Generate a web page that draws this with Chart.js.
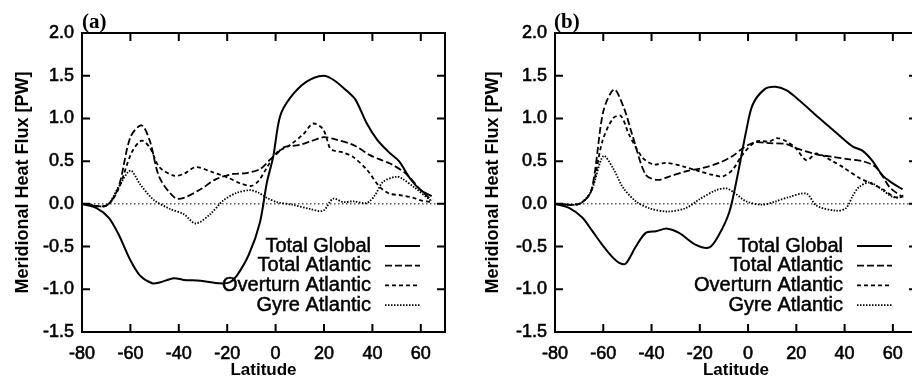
<!DOCTYPE html>
<html>
<head>
<meta charset="utf-8">
<script src="https://cdn.jsdelivr.net/npm/chart.js@4.4.1/dist/chart.umd.min.js"></script>
<style>
  html, body { margin: 0; padding: 0; background: #fff; width: 912px; height: 381px; overflow: hidden; position: relative; }
  canvas { position: absolute; top: 0; }
  #chartA { left: 0; }
  #chartB { left: 456px; }
</style>
</head>
<body>
<canvas id="chartA" width="456" height="381"></canvas>
<canvas id="chartB" width="472" height="381"></canvas>
<script>
// --- data: [latitude, heat flux PW] ---
const xTicks = [-80, -60, -40, -20, 0, 20, 40, 60];
const yTicks = [-1.5, -1.0, -0.5, 0, 0.5, 1.0, 1.5, 2.0];
const seriesNames = ['Total Global', 'Total Atlantic', 'Overturn Atlantic', 'Gyre Atlantic'];

// panel (a)
const globalA = [[-80,0],[-74,-0.05],[-69,-0.16],[-65,-0.35],[-60,-0.66],[-56,-0.84],[-51,-0.93],[-48,-0.92],[-42,-0.87],[-38,-0.89],[-31,-0.9],[-23,-0.93],[-19,-0.92],[-16,-0.84],[-11,-0.59],[-6.5,-0.22],[-3.6,0.25],[-1,0.55],[1.8,1.02],[6,1.24],[12.8,1.43],[19.7,1.5],[24,1.45],[29.5,1.32],[33,1.22],[37.7,0.94],[42,0.75],[47,0.6],[51,0.5],[55.5,0.3],[60,0.16],[64.5,0.09]];
const atlanticA = [[-80,0],[-70,-0.02],[-65,0.19],[-60,0.78],[-55.4,0.92],[-52,0.74],[-48,0.31],[-41.6,0.07],[-38,0.07],[-31,0.17],[-24.6,0.29],[-17.6,0.35],[-12,0.36],[-6.3,0.41],[-2.2,0.52],[1,0.6],[3.1,0.66],[10,0.69],[14.3,0.73],[19.8,0.78],[24,0.76],[32,0.69],[39,0.57],[43,0.52],[47.5,0.47],[54,0.35],[59.7,0.17],[64.5,0.04]];
const overturnA = [[-80,0],[-70,-0.02],[-65,0.17],[-59.5,0.6],[-55.4,0.74],[-52,0.66],[-48,0.43],[-42,0.33],[-38,0.35],[-33,0.43],[-26,0.37],[-20,0.31],[-14.6,0.24],[-10,0.21],[-7,0.27],[-3.7,0.42],[0.5,0.6],[6,0.69],[11.6,0.82],[15.5,0.94],[19.7,0.87],[22.5,0.65],[24.5,0.62],[28,0.6],[32,0.55],[37.7,0.4],[43,0.2],[47,0.12],[52,0.1],[57,0.07],[60,0.04],[64.5,0.02]];
const gyreA = [[-80,0],[-70,-0.02],[-65,0.19],[-60,0.39],[-56,0.23],[-50.5,0.05],[-43.6,-0.06],[-38,-0.12],[-33,-0.23],[-27,-0.12],[-21.6,0.04],[-16,0.13],[-10.5,0.16],[-7,0.13],[-3.6,0.07],[0.5,0.02],[7,-0.01],[14.3,-0.06],[19.7,-0.08],[23.7,0.06],[28,0.02],[32,0.03],[37.7,0.01],[41,0.1],[44.5,0.26],[50,0.32],[52,0.3],[57,0.2],[64.5,0.03]];

// panel (b)
const globalB = [[-80,0],[-74,-0.05],[-68.7,-0.16],[-64.5,-0.32],[-60.4,-0.48],[-56,-0.63],[-53.4,-0.69],[-50.7,-0.7],[-46.5,-0.5],[-42.4,-0.34],[-38.2,-0.32],[-33.4,-0.29],[-28.6,-0.34],[-21.6,-0.48],[-16,-0.51],[-12,-0.36],[-7.7,-0.09],[-4.3,0.34],[-0.8,0.85],[1.9,1.16],[6.8,1.34],[11.3,1.37],[15.8,1.33],[21.3,1.21],[28,1.04],[35,0.87],[39,0.77],[43.4,0.67],[47.5,0.62],[51.6,0.5],[55.8,0.33],[60,0.24],[64,0.17]];
const atlanticB = [[-80,0],[-70,0],[-65,0.15],[-60,1.08],[-55.5,1.34],[-51.4,1.12],[-48,0.81],[-42.4,0.34],[-37.5,0.28],[-32.7,0.32],[-25.8,0.38],[-18.8,0.42],[-12,0.48],[-6.4,0.56],[-2.2,0.65],[2.6,0.72],[8.9,0.71],[15.8,0.7],[20.1,0.65],[28.3,0.58],[35,0.55],[42,0.52],[47.5,0.5],[52.5,0.44],[55.8,0.32],[58.8,0.19],[64,0.08]];
const overturnB = [[-80,0],[-70,0],[-65,0.15],[-60.4,0.73],[-56,1.0],[-52.7,1.03],[-49.3,0.81],[-43.7,0.54],[-39,0.46],[-34,0.48],[-27,0.44],[-20,0.38],[-14.7,0.34],[-10.5,0.32],[-6.4,0.4],[-2.2,0.58],[3.3,0.73],[8.9,0.73],[12,0.77],[16,0.73],[19.5,0.66],[24.2,0.51],[28.3,0.59],[35,0.5],[39.3,0.43],[46.3,0.3],[51.7,0.23],[55.8,0.17],[60,0.09],[62.5,0.07],[64.3,0.1]];
const gyreB = [[-80,0],[-70,0],[-65,0.15],[-60,0.56],[-56,0.42],[-51.8,0.19],[-46.5,0.03],[-41,-0.05],[-33.4,-0.09],[-25.8,-0.05],[-20.3,0.05],[-13.3,0.16],[-9,0.18],[-5.7,0.13],[-0.8,0.03],[6,-0.01],[11.6,0.03],[17,0.08],[24.2,0.12],[28.3,-0.02],[36.5,-0.08],[40.6,-0.05],[43.5,0.1],[46.1,0.2],[50.5,0.25],[55.8,0.16],[60,0.08],[64.3,0.08]];

// --- styles for the four series ---
const lineStyles = [
  { width: 2, dash: [] },
  { width: 1.8, dash: [7, 3] },
  { width: 1.8, dash: [4, 3] },
  { width: 1.8, dash: [1.5, 1.5] }
];
const fontFamily = '"Liberation Sans", Arial, sans-serif';

// frame, inward ticks, zero line, legend and panel label (gnuplot look)
const gnuPlot = {
  id: 'gnuPlot',
  beforeDatasetsDraw(chart) {
    const { ctx, chartArea: a, scales: { y } } = chart;
    const y0 = y.getPixelForValue(0);
    ctx.save();
    ctx.strokeStyle = '#000';
    ctx.lineWidth = 1;
    ctx.setLineDash([1.5, 2.5]);
    ctx.beginPath();
    ctx.moveTo(a.left, y0);
    ctx.lineTo(a.right, y0);
    ctx.stroke();
    ctx.restore();
  },
  afterDatasetsDraw(chart, args, opts) {
    const { ctx, chartArea: a, scales: { x, y } } = chart;
    ctx.save();
    ctx.strokeStyle = '#000';
    ctx.setLineDash([]);
    ctx.lineWidth = 2;
    ctx.strokeRect(a.left, a.top, a.right - a.left, a.bottom - a.top);

    // ticks pointing inward
    const tl = 8;
    ctx.beginPath();
    xTicks.forEach(v => {
      const px = x.getPixelForValue(v);
      ctx.moveTo(px, a.bottom); ctx.lineTo(px, a.bottom - tl);
      ctx.moveTo(px, a.top); ctx.lineTo(px, a.top + tl);
    });
    yTicks.forEach(v => {
      const py = y.getPixelForValue(v);
      ctx.moveTo(a.left, py); ctx.lineTo(a.left + tl, py);
      ctx.moveTo(a.right, py); ctx.lineTo(a.right - tl, py);
    });
    ctx.stroke();

    // legend: text right aligned, sample line to its right
    ctx.font = '20px ' + fontFamily;
    ctx.fillStyle = '#000';
    ctx.textAlign = 'right';
    ctx.textBaseline = 'middle';
    chart.data.datasets.forEach((ds, i) => {
      const ly = a.top + 213 + i * 19.7;
      ctx.lineWidth = 0.5;
      ctx.setLineDash([]);
      ctx.fillText(ds.label, a.right - 74, ly);
      ctx.strokeText(ds.label, a.right - 74, ly);
      ctx.lineWidth = ds.borderWidth;
      ctx.setLineDash(ds.borderDash);
      ctx.beginPath();
      ctx.moveTo(a.right - 60, ly);
      ctx.lineTo(a.right - 25, ly);
      ctx.stroke();
    });
    ctx.setLineDash([]);

    // panel label
    ctx.font = 'bold 21px "Liberation Serif", "Times New Roman", serif';
    ctx.textAlign = 'left';
    ctx.textBaseline = 'alphabetic';
    ctx.fillText(opts.label, a.left + opts.labelDx, 28);
    ctx.restore();
  }
};

function makeChart(canvasId, series, label, yAxisWidth, titlePad, labelDx) {
  const datasets = series.map((pts, i) => ({
    label: seriesNames[i],
    data: pts.map(p => ({ x: p[0], y: p[1] })),
    borderColor: '#000',
    borderWidth: lineStyles[i].width,
    borderDash: lineStyles[i].dash,
    pointRadius: 0,
    tension: 0.3,
    fill: false
  }));

  return new Chart(document.getElementById(canvasId), {
    type: 'line',
    data: { datasets: datasets },
    options: {
      responsive: false,
      animation: false,
      layout: { padding: { top: 33, right: 11, left: 0, bottom: 0 } },
      plugins: {
        legend: { display: false },
        tooltip: { enabled: false },
        gnuPlot: { label: label, labelDx: labelDx }
      },
      scales: {
        x: {
          type: 'linear',
          min: -80, max: 70,
          afterBuildTicks: s => { s.ticks = xTicks.map(v => ({ value: v })); },
          afterFit: s => { s.height = 49; },
          grid: { display: false, drawTicks: false },
          border: { display: false },
          ticks: { color: '#000', padding: 11, textStrokeColor: '#000', textStrokeWidth: 0.6,
                   font: { family: fontFamily, size: 18 } },
          title: { display: true, text: 'Latitude', color: '#000', padding: { top: 0, bottom: 0 },
                   font: { family: fontFamily, size: 17, weight: 'bold' } }
        },
        y: {
          min: -1.5, max: 2.0,
          afterBuildTicks: s => { s.ticks = yTicks.map(v => ({ value: v })); },
          afterFit: s => { s.width = yAxisWidth; },
          grid: { display: false, drawTicks: false },
          border: { display: false },
          ticks: { color: '#000', padding: 8, textStrokeColor: '#000', textStrokeWidth: 0.6,
                   callback: v => v.toFixed(1),
                   font: { family: fontFamily, size: 18 } },
          title: { display: true, text: 'Meridional Heat Flux [PW]', color: '#000', padding: { top: titlePad, bottom: 0 },
                   font: { family: fontFamily, size: 18, weight: 'bold' } }
        }
      }
    },
    plugins: [gnuPlot]
  });
}

makeChart('chartA', [globalA, atlanticA, overturnA, gyreA], '(a)', 82, 12, 0);
makeChart('chartB', [globalB, atlanticB, overturnB, gyreB], '(b)', 99, 26, -1);
</script>
</body>
</html>
